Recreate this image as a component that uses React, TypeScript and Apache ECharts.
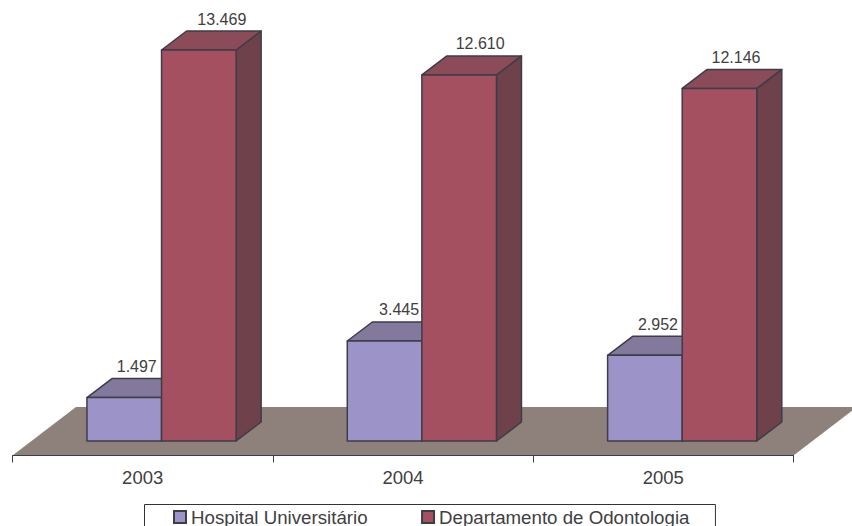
import React, { useEffect, useRef } from "react";
import * as echarts from "echarts";

const years = ["2003", "2004", "2005"];
const hospital = [1497, 3445, 2952];
const odontologia = [13469, 12610, 12146];
const seriesNames = ["Hospital Universitário", "Departamento de Odontologia"];

const FONT = '"Liberation Sans", Arial, sans-serif';
const STROKE = "#3d3d48";
const TEXT = "#404040";
const palettes = [
  { front: "#9c94c8", top: "#83799d", side: "#6d6688" },
  { front: "#a55060", top: "#8b4b58", side: "#6f414b" },
];
const DEPTH_X = 25;
const DEPTH_Y = 19;
const labelDx = [
  [12.5, 14.5, 13],
  [23, 21, 16.5],
];

const fmt = (v: number) => String(v).replace(/\B(?=(\d{3})+$)/g, ".");

function renderBar(seriesIndex: number) {
  return (params: any, api: any) => {
    const idx = api.value(0);
    const val = api.value(1);
    const top = api.coord([idx, val]);
    const base = api.coord([idx, 0]);
    const band = api.size([1, 0])[0];
    const w = band * 0.2865;
    const cx = base[0] + band * 0.0725;
    const x0 = seriesIndex === 0 ? cx - w : cx;
    const x1 = x0 + w;
    const yT = top[1];
    const yB = base[1];
    const line = { stroke: STROKE, lineWidth: 1.5, lineJoin: "round" };
    const pal = palettes[seriesIndex];
    return {
      type: "group",
      children: [
        {
          type: "polygon",
          shape: { points: [[x1, yT], [x1 + DEPTH_X, yT - DEPTH_Y], [x1 + DEPTH_X, yB - DEPTH_Y], [x1, yB]] },
          style: { fill: pal.side, ...line },
        },
        {
          type: "polygon",
          shape: { points: [[x0, yT], [x0 + DEPTH_X, yT - DEPTH_Y], [x1 + DEPTH_X, yT - DEPTH_Y], [x1, yT]] },
          style: { fill: pal.top, ...line },
        },
        {
          type: "rect",
          shape: { x: x0, y: yT, width: w, height: yB - yT },
          style: { fill: pal.front, ...line },
        },
        {
          type: "text",
          x: x0 + w / 2 + labelDx[seriesIndex][params.dataIndex],
          y: yT - DEPTH_Y - 12,
          style: {
            text: fmt(val),
            fill: TEXT,
            font: `16px ${FONT}`,
            align: "center",
            verticalAlign: "middle",
          },
        },
      ],
    };
  };
}

export default function App() {
  const ref = useRef<HTMLDivElement>(null);
  useEffect(() => {
    const chart = echarts.init(ref.current!, null, { renderer: "svg" });
    chart.setOption({
      animation: false,
      backgroundColor: "#ffffff",
      grid: { left: 12.5, width: 781, top: 34.6, height: 406.4 },
      xAxis: {
        type: "category",
        data: years,
        offset: 14.5,
        axisLine: { onZero: false, lineStyle: { color: STROKE, width: 1 } },
        axisTick: { show: true, length: 7, lineStyle: { color: STROKE } },
        axisLabel: { color: TEXT, fontSize: 18.5, fontFamily: FONT, margin: 12 },
      },
      yAxis: { type: "value", min: 0, max: 14000, show: false, splitLine: { show: false } },
      graphic: [
        {
          type: "polygon",
          z: 0,
          silent: true,
          shape: { points: [[12.5, 455.5], [76, 407], [857, 407], [793.5, 455.5]] },
          style: { fill: "#8e807a" },
        },
      ],
      legend: {
        left: 144.5,
        top: 504.5,
        orient: "horizontal",
        padding: [3, 26, 10, 28.5],
        itemWidth: 12,
        itemHeight: 12,
        itemGap: 53.5,
        borderColor: "#333333",
        borderWidth: 1,
        backgroundColor: "#ffffff",
        textStyle: { color: TEXT, fontSize: 18.7, fontFamily: FONT },
        data: seriesNames.map((name) => ({ name, icon: "rect" })),
      },
      series: [
        {
          type: "custom",
          name: seriesNames[0],
          renderItem: renderBar(0),
          encode: { x: 0, y: 1 },
          itemStyle: { color: palettes[0].front, borderColor: STROKE, borderWidth: 1.5 },
          data: hospital.map((v, i) => [i, v]),
        },
        {
          type: "custom",
          name: seriesNames[1],
          renderItem: renderBar(1),
          encode: { x: 0, y: 1 },
          itemStyle: { color: palettes[1].front, borderColor: STROKE, borderWidth: 1.5 },
          data: odontologia.map((v, i) => [i, v]),
        },
      ],
    });
    return () => chart.dispose();
  }, []);
  return <div ref={ref} style={{ position: "absolute", left: 0, top: 0, width: 852, height: 526 }} />;
}
